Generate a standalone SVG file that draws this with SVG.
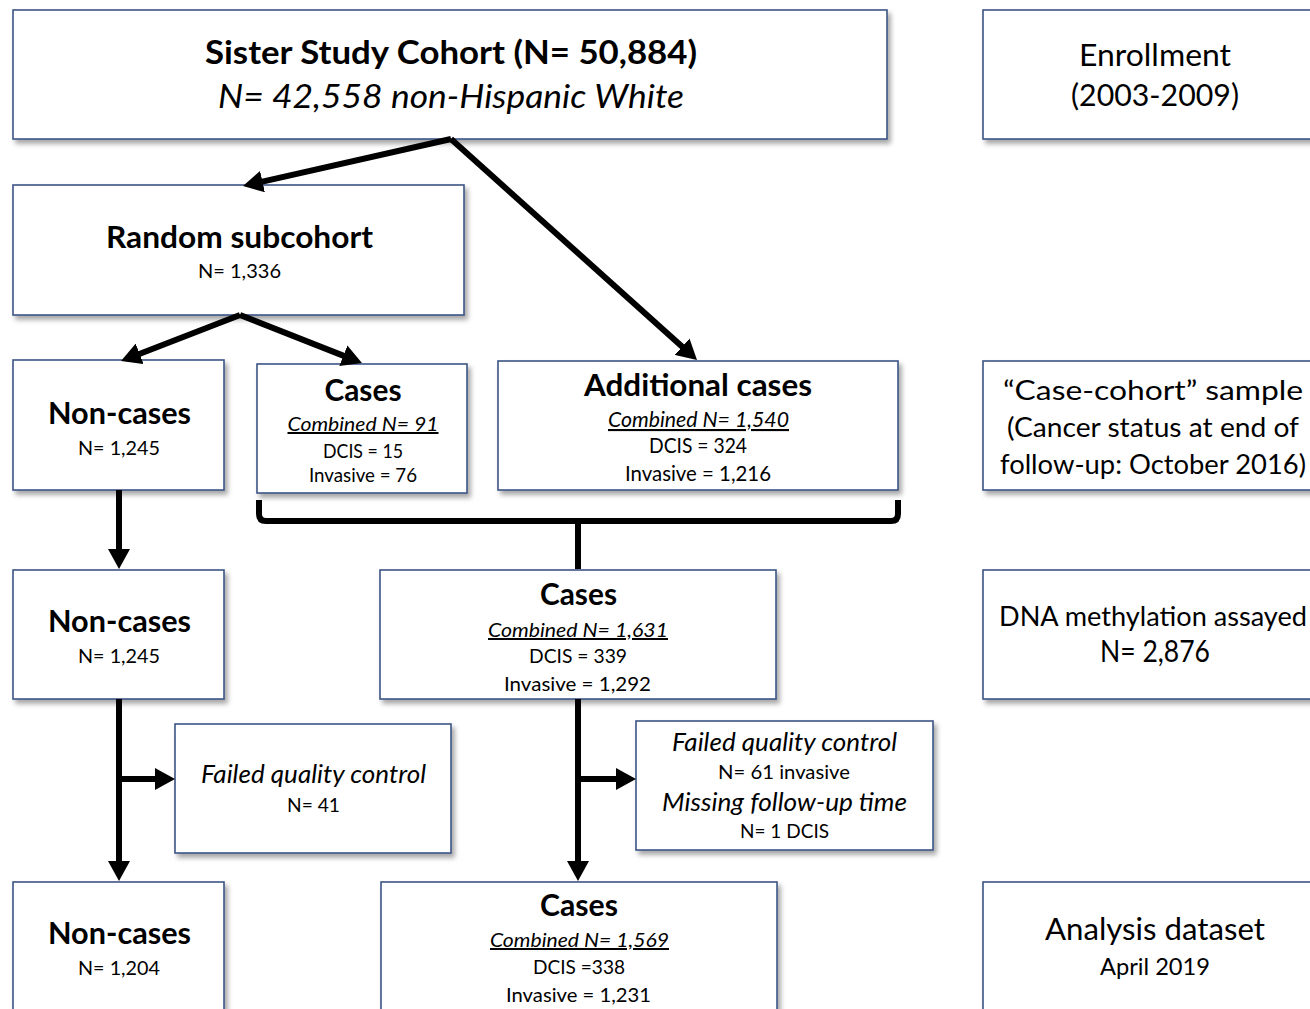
<svg xmlns="http://www.w3.org/2000/svg" width="1310" height="1009" viewBox="0 0 1310 1009">
<defs>
<filter id="sh" x="-5%" y="-5%" width="115%" height="120%">
<feDropShadow dx="3" dy="4" stdDeviation="2.5" flood-color="#000" flood-opacity="0.35"/>
</filter>
<marker id="ah" viewBox="0 0 20 22" refX="8" refY="11" markerWidth="20" markerHeight="22" markerUnits="userSpaceOnUse" orient="auto">
<path d="M0,0 L20,11 L0,22 Z" fill="#000"/>
</marker>
</defs>
<style>
.box{fill:#fff;stroke:#3d5485;stroke-width:1.6;filter:url(#sh)}
text{font-family:Lato,"Liberation Sans",sans-serif;fill:#000;text-anchor:middle}
.t{font-size:33px;font-weight:bold}
.ti{font-size:33px;font-style:italic}
.h{font-size:30px;font-weight:bold}
.s{font-size:20px}
.su{font-size:20px;font-style:italic;text-decoration:underline}
.m{font-size:21px}
.mu{font-size:21px;font-style:italic;text-decoration:underline}
.r{font-size:30px}
.rs{font-size:27px}
.q{font-size:25px;font-style:italic}
.ln{fill:none;stroke:#000;stroke-width:6}
.ar{fill:none;stroke:#000;stroke-width:6;marker-end:url(#ah)}
</style>

<g id="cohort">
<rect class="box" x="13" y="10" width="874" height="129"/>
<text class="t" x="451" y="64" textLength="492" lengthAdjust="spacingAndGlyphs">Sister Study Cohort (N= 50,884)</text>
<text class="ti" x="451" y="108" textLength="466" lengthAdjust="spacingAndGlyphs">N= 42,558 non-Hispanic White</text>
</g>

<g id="subcohort">
<rect class="box" x="13" y="185" width="451" height="130"/>
<text class="h" x="239.5" y="248" textLength="267" lengthAdjust="spacingAndGlyphs">Random subcohort</text>
<text class="s" x="239.5" y="278" textLength="83" lengthAdjust="spacingAndGlyphs">N= 1,336</text>
</g>

<g id="noncases1">
<rect class="box" x="13" y="360" width="211" height="130"/>
<text class="h" x="119.5" y="424" textLength="143" lengthAdjust="spacingAndGlyphs">Non-cases</text>
<text class="s" x="119" y="455" textLength="82" lengthAdjust="spacingAndGlyphs">N= 1,245</text>
</g>

<g id="cases1">
<rect class="box" x="257" y="364" width="210" height="129"/>
<text class="h" x="363" y="401" textLength="77" lengthAdjust="spacingAndGlyphs">Cases</text>
<text class="su" x="363" y="431" textLength="151" lengthAdjust="spacingAndGlyphs">Combined N= 91</text>
<text class="s" x="363" y="458" textLength="80" lengthAdjust="spacingAndGlyphs">DCIS = 15</text>
<text class="s" x="363" y="482" textLength="108" lengthAdjust="spacingAndGlyphs">Invasive = 76</text>
</g>

<g id="additional">
<rect class="box" x="498" y="361" width="400" height="129"/>
<text class="h" x="698" y="396" textLength="228" lengthAdjust="spacingAndGlyphs">Additional cases</text>
<text class="mu" x="698.5" y="427" textLength="181" lengthAdjust="spacingAndGlyphs">Combined N= 1,540</text>
<text class="m" x="698" y="453" textLength="98" lengthAdjust="spacingAndGlyphs">DCIS = 324</text>
<text class="m" x="698" y="481" textLength="146" lengthAdjust="spacingAndGlyphs">Invasive = 1,216</text>
</g>

<g id="noncases2">
<rect class="box" x="13" y="570" width="211" height="129"/>
<text class="h" x="119.5" y="632" textLength="143" lengthAdjust="spacingAndGlyphs">Non-cases</text>
<text class="s" x="119" y="663" textLength="82" lengthAdjust="spacingAndGlyphs">N= 1,245</text>
</g>

<g id="cases2">
<rect class="box" x="380" y="570" width="396" height="129"/>
<text class="h" x="578.5" y="605" textLength="77" lengthAdjust="spacingAndGlyphs">Cases</text>
<text class="su" x="578" y="637" textLength="180" lengthAdjust="spacingAndGlyphs">Combined N= 1,631</text>
<text class="s" x="578" y="663" textLength="98" lengthAdjust="spacingAndGlyphs">DCIS = 339</text>
<text class="s" x="577.5" y="691" textLength="147" lengthAdjust="spacingAndGlyphs">Invasive = 1,292</text>
</g>

<g id="qc1">
<rect class="box" x="175" y="724" width="276" height="129"/>
<text class="q" x="313.5" y="783" textLength="225" lengthAdjust="spacingAndGlyphs">Failed quality control</text>
<text class="s" x="313.5" y="812" textLength="53" lengthAdjust="spacingAndGlyphs">N= 41</text>
</g>

<g id="qc2">
<rect class="box" x="636" y="721" width="297" height="129"/>
<text class="q" x="784.5" y="751" textLength="225" lengthAdjust="spacingAndGlyphs">Failed quality control</text>
<text class="s" x="784" y="779" textLength="132" lengthAdjust="spacingAndGlyphs">N= 61 invasive</text>
<text class="q" x="784.5" y="811" textLength="245" lengthAdjust="spacingAndGlyphs">Missing follow-up time</text>
<text class="s" x="784.5" y="838" textLength="89" lengthAdjust="spacingAndGlyphs">N= 1 DCIS</text>
</g>

<g id="noncases3">
<rect class="box" x="13" y="882" width="211" height="140"/>
<text class="h" x="119.5" y="944" textLength="143" lengthAdjust="spacingAndGlyphs">Non-cases</text>
<text class="s" x="119" y="975" textLength="82" lengthAdjust="spacingAndGlyphs">N= 1,204</text>
</g>

<g id="cases3">
<rect class="box" x="381" y="882" width="396" height="140"/>
<text class="h" x="579" y="916" textLength="78" lengthAdjust="spacingAndGlyphs">Cases</text>
<text class="su" x="579.5" y="947" textLength="179" lengthAdjust="spacingAndGlyphs">Combined N= 1,569</text>
<text class="s" x="579" y="974" textLength="92" lengthAdjust="spacingAndGlyphs">DCIS =338</text>
<text class="s" x="578.5" y="1002" textLength="145" lengthAdjust="spacingAndGlyphs">Invasive = 1,231</text>
</g>

<g id="enrollment">
<rect class="box" x="983" y="10" width="345" height="129"/>
<text class="r" x="1155" y="66" textLength="152" lengthAdjust="spacingAndGlyphs">Enrollment</text>
<text class="r" x="1155" y="106" textLength="168" lengthAdjust="spacingAndGlyphs">(2003-2009)</text>
</g>

<g id="sample">
<rect class="box" x="983" y="361" width="345" height="129"/>
<text class="rs" x="1153" y="400" textLength="300" lengthAdjust="spacingAndGlyphs">“Case-cohort” sample</text>
<text class="rs" x="1153" y="437" textLength="292" lengthAdjust="spacingAndGlyphs">(Cancer status at end of</text>
<text class="rs" x="1153" y="474" textLength="306" lengthAdjust="spacingAndGlyphs">follow-up: October 2016)</text>
</g>

<g id="methylation">
<rect class="box" x="983" y="570" width="345" height="129"/>
<text class="rs" x="1153" y="626" textLength="308" lengthAdjust="spacingAndGlyphs">DNA methylation assayed</text>
<text class="r" x="1155" y="662" textLength="110" lengthAdjust="spacingAndGlyphs">N= 2,876</text>
</g>

<g id="analysis">
<rect class="box" x="983" y="882" width="345" height="140"/>
<text class="r" x="1155" y="940" textLength="220" lengthAdjust="spacingAndGlyphs">Analysis dataset</text>
<text class="r" x="1155" y="975" style="font-size:24px" textLength="110" lengthAdjust="spacingAndGlyphs">April 2019</text>
</g>

<g id="connectors">
<line class="ar" x1="451" y1="139" x2="254.7" y2="183.4"/>
<line class="ar" x1="451" y1="139" x2="688.1" y2="352"/>
<line class="ar" x1="240" y1="315" x2="132.2" y2="356.7"/>
<line class="ar" x1="240" y1="315" x2="350.8" y2="358.6"/>
<line class="ar" x1="119" y1="490" x2="119" y2="557"/>
<line class="ar" x1="119" y1="699" x2="119" y2="869"/>
<line class="ar" x1="119" y1="779" x2="163" y2="779"/>
<line class="ar" x1="578" y1="699" x2="578" y2="869"/>
<line class="ar" x1="578" y1="779" x2="624" y2="779"/>
<path class="ln" d="M259,500 L259,514 Q259,521 266,521 L891,521 Q898,521 898,514 L898,500"/>
<line class="ln" x1="578" y1="521" x2="578" y2="569"/>
</g>
</svg>
